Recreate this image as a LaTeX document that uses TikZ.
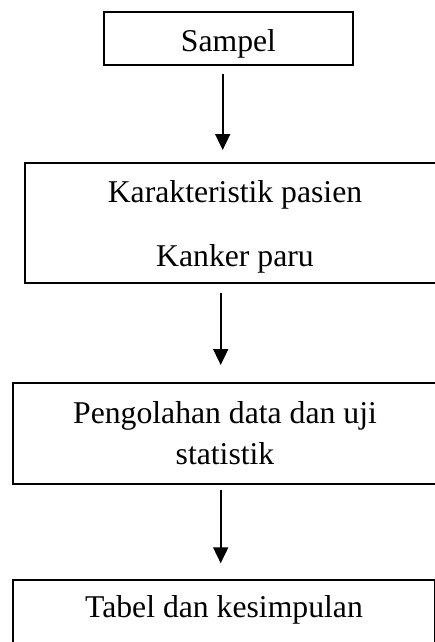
\documentclass[tikz,border=0pt]{standalone}
\usepackage{fontspec}
\setmainfont{Liberation Serif}
\usetikzlibrary{positioning, arrows.meta}

\begin{document}
\begin{tikzpicture}[x=1pt, y=-1pt,
  box/.style={rectangle, draw, line width=1.7pt, outer sep=0pt, inner sep=0pt,
    align=center, font=\fontsize{31.7}{36.5}\selectfont},
  flow/.style={-{Triangle[length=16pt, width=15pt]}, line width=1.7pt}]
\clip (0,0) rectangle (435,642);
\node[box, minimum width=249pt, minimum height=53pt, text height=27pt, text depth=0pt] (sampel) at (228.5,38.5) {Sampel};
\node[box, below=97.7pt of sampel, xshift=6.5pt, minimum width=420pt, minimum height=120.6pt, text height=87.4pt, text depth=0pt] (karakteristik) {Karakteristik pasien\\[27.5pt] Kanker paru};
\node[box, below=100pt of karakteristik, xshift=-10pt, minimum width=424pt, minimum height=100.7pt, text height=61.2pt, text depth=0pt] (olah) {Pengolahan data dan uji\\[4.5pt] statistik};
\node[box, below=96pt of olah, xshift=-1pt, minimum width=422pt, minimum height=75.4pt, text height=8pt, text depth=8pt] (tabel) {Tabel dan kesimpulan};
\coordinate (ax1) at (222.7,0);
\coordinate (ax2) at (220.7,0);
\draw[flow, shorten <=9pt, shorten >=12.7pt] (sampel.south -| ax1) -- (karakteristik.north -| ax1);
\draw[flow, shorten <=9.4pt, shorten >=18.3pt] (karakteristik.south -| ax2) -- (olah.north -| ax2);
\draw[flow, shorten <=6pt, shorten >=16.7pt] (olah.south -| ax2) -- (tabel.north -| ax2);
\end{tikzpicture}
\end{document}
